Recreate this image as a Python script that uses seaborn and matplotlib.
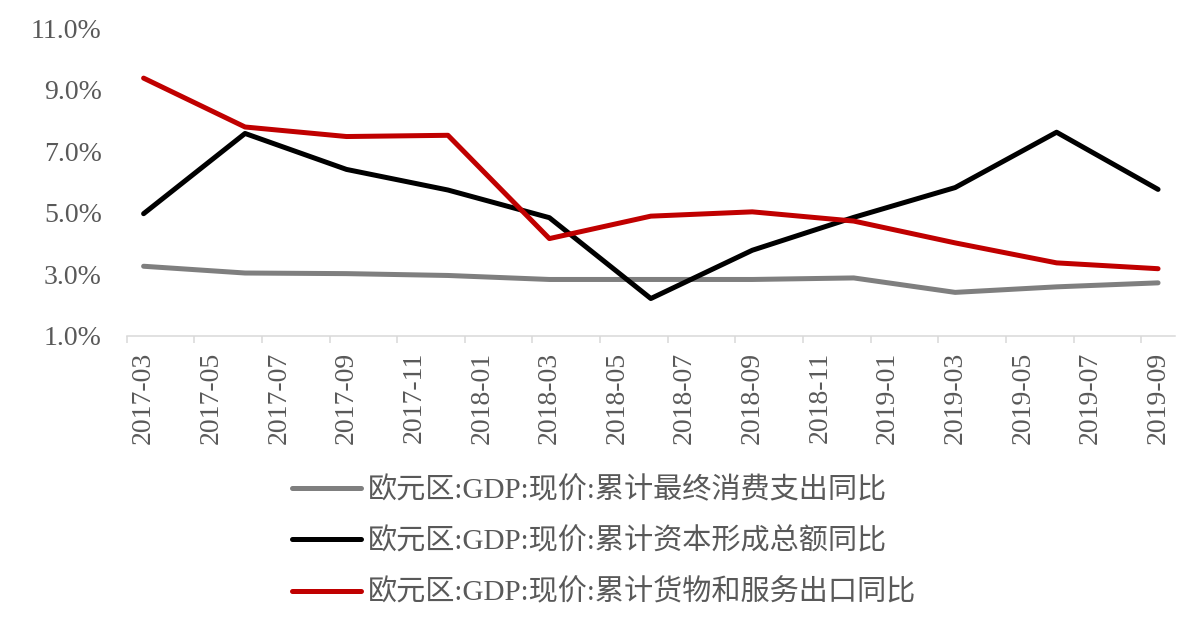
import numpy as np
import pandas as pd
import matplotlib
matplotlib.use("Agg")
import matplotlib.pyplot as plt
import seaborn as sns
from matplotlib.lines import Line2D

# ---- data ----
quarters = ["2017-03", "2017-06", "2017-09", "2017-12", "2018-03", "2018-06",
            "2018-09", "2018-12", "2019-03", "2019-06", "2019-09"]
consumption = [3.26, 3.04, 3.02, 2.96, 2.83, 2.83, 2.83, 2.88, 2.41, 2.59, 2.72]
capital = [4.97, 7.58, 6.41, 5.74, 4.84, 2.21, 3.78, 4.85, 5.82, 7.62, 5.76]
exports = [9.38, 7.79, 7.48, 7.52, 4.16, 4.89, 5.03, 4.73, 4.02, 3.37, 3.18]
series_names = ["欧元区:GDP:现价:累计最终消费支出同比",
                "欧元区:GDP:现价:累计资本形成总额同比",
                "欧元区:GDP:现价:累计货物和服务出口同比"]
tick_labels = ["2017-03", "2017-05", "2017-07", "2017-09", "2017-11", "2018-01",
               "2018-03", "2018-05", "2018-07", "2018-09", "2018-11", "2019-01",
               "2019-03", "2019-05", "2019-07", "2019-09"]
y_ticks = [1, 3, 5, 7, 9, 11]
colors = ["#7f7f7f", "#000000", "#c00000"]

sns.set_theme(style="white")
plt.rcParams["font.family"] = ["Liberation Serif", "Noto Sans CJK SC", "DejaVu Sans"]


def month_index(s):
    y, m = s.split("-")
    return (int(y) - 2017) * 12 + int(m) - 3


rows = []
for name, vals in zip(series_names, [consumption, capital, exports]):
    for q, v in zip(quarters, vals):
        rows.append({"m": month_index(q), "v": v, "series": name})
df = pd.DataFrame(rows)

fig = plt.figure(figsize=(11.83, 6.35), dpi=100)
ax = fig.add_axes([0.1071, 0.4713, 0.8861, 0.4841])

sns.lineplot(data=df, x="m", y="v", hue="series", hue_order=series_names,
             palette=colors, linewidth=3.6, ax=ax, legend=False, sort=False)
for ln in ax.lines:
    ln.set_solid_capstyle("round")

ax.set_xlim(-0.5, 30.5)
ax.set_ylim(1, 11)
ax.set_xlabel("")
ax.set_ylabel("")

tick_idx = [month_index(t) for t in tick_labels]
ax.set_xticks([i - 0.5 for i in tick_idx])
ax.set_xticklabels([])
ax.set_xticks(tick_idx, minor=True)
ax.set_xticklabels(tick_labels, minor=True, rotation=90)
ax.tick_params(axis="x", which="major", length=5, width=1.1, color="#d9d9d9",
               direction="out", bottom=True)
ax.tick_params(axis="x", which="minor", length=0, pad=11.5, labelsize=20,
               labelcolor="#595959")

ax.set_yticks(y_ticks)
ax.set_yticklabels([f"{t:.1f}%" for t in y_ticks])
ax.tick_params(axis="y", length=0, pad=18, labelsize=20, labelcolor="#595959")

for side in ["top", "right", "left"]:
    ax.spines[side].set_visible(False)
ax.spines["bottom"].set_color("#d9d9d9")
ax.spines["bottom"].set_linewidth(1.1)
ax.grid(False)

handles = [Line2D([0], [0], color=c, lw=3.6, solid_capstyle="round") for c in colors]
leg = fig.legend(handles, series_names, loc="upper left",
                 bbox_to_anchor=(292 / 1183, 0.250), frameon=False, fontsize=21,
                 handlelength=2.35, handletextpad=0.25, labelspacing=0.82,
                 borderpad=0, borderaxespad=0)
for t in leg.get_texts():
    t.set_color("#595959")

fig.savefig("out.png", dpi=100)
